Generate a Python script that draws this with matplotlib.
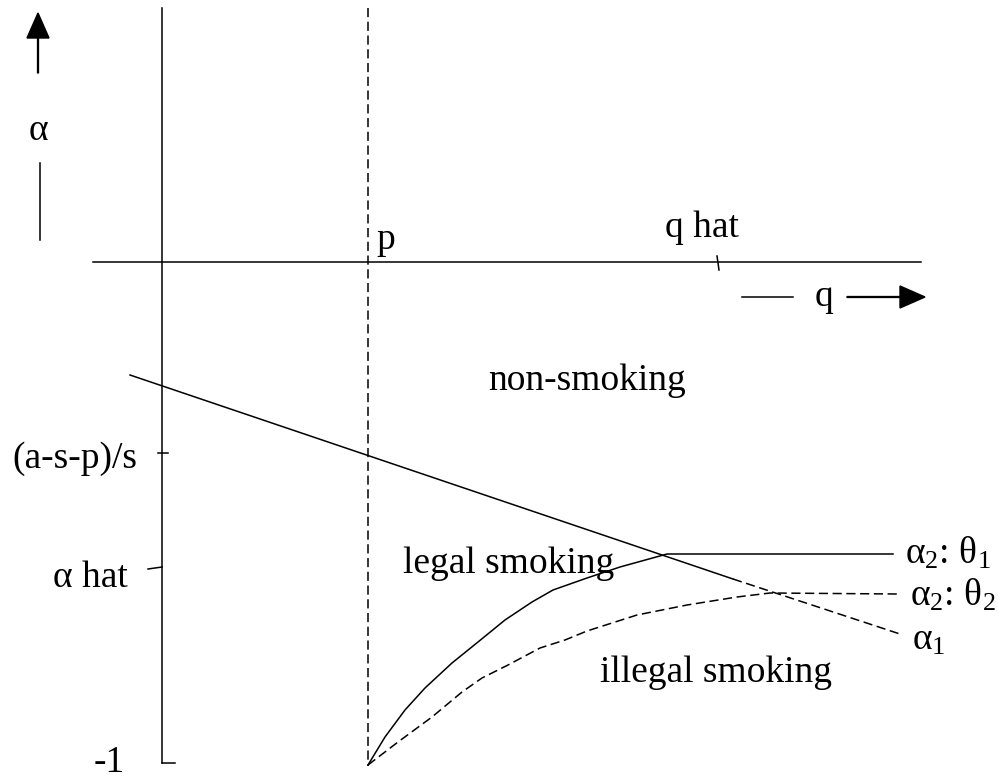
import matplotlib
matplotlib.use("Agg")
import matplotlib.pyplot as plt

plt.rcParams["font.family"] = ["Liberation Serif", "DejaVu Serif"]
plt.rcParams["mathtext.fontset"] = "custom"
plt.rcParams["mathtext.rm"] = "Liberation Serif"
plt.rcParams["mathtext.it"] = "Liberation Serif:italic"
plt.rcParams["mathtext.default"] = "rm"

# diagram coordinates (x to the right, y downward as in the drawing)
alpha_axis_x = [162, 162]
alpha_axis_y = [8, 763]
q_axis_x = [93, 921]
q_axis_y = [262, 262]
p_line_x = [368, 368]
p_line_y = [8, 766]

# alpha_1 boundary, solid part then dashed part
alpha1_solid_x = [130, 733]
alpha1_solid_y = [375, 579]
alpha1_dash_x = [733, 900]
alpha1_dash_y = [579, 634]

# alpha_2 for theta_1 (solid) and theta_2 (dashed)
theta1_x = [368, 385, 405, 425, 452, 478, 505, 532, 553, 587, 620, 667, 893]
theta1_y = [765, 737, 710, 688, 663, 642, 620, 602, 590, 578, 567, 554, 554]
theta2_x = [368, 398, 432, 462, 482, 508, 540, 565, 587, 637, 687, 737, 770, 897]
theta2_y = [765, 742, 717, 692, 678, 665, 648, 640, 631, 615, 605, 597, 593, 594]

# little ticks on the axes
tick_lines = [
    ([158, 168], [453, 453]),   # (a-s-p)/s
    ([148, 162], [569, 567]),   # alpha hat
    ([162, 175], [763, 763]),   # -1
    ([717, 719], [256, 270]),   # q hat
]

fig = plt.figure(figsize=(9.98, 7.8), dpi=100)
ax = fig.add_axes([0, 0, 1, 1])
ax.set_xlim(0, 998)
ax.set_ylim(780, 0)
ax.axis("off")

lw = 1.1
dash = (0, (6, 3))
ax.plot(alpha_axis_x, alpha_axis_y, color="k", lw=lw)
ax.plot(q_axis_x, q_axis_y, color="k", lw=lw)
ax.plot(p_line_x, p_line_y, color="k", lw=lw, linestyle=dash)
ax.plot(alpha1_solid_x, alpha1_solid_y, color="k", lw=lw)
ax.plot(alpha1_dash_x, alpha1_dash_y, color="k", lw=lw, linestyle=dash)
ax.plot(theta1_x, theta1_y, color="k", lw=lw)
ax.plot(theta2_x, theta2_y, color="k", lw=lw, linestyle=dash)
for tx, ty in tick_lines:
    ax.plot(tx, ty, color="k", lw=lw)

# alpha direction marker
ax.arrow(38, 73, 0, -60, width=0.9, head_width=22, head_length=25,
         length_includes_head=True, fc="k", ec="k")
ax.plot([40, 40], [163, 240], color="k", lw=lw)
ax.text(38, 131, "α", fontsize=27, ha="center", va="center")

# q direction marker
ax.plot([742, 793], [297, 297], color="k", lw=lw)
ax.text(824, 297, "q", fontsize=27, ha="center", va="center")
ax.arrow(847, 297, 78, 0, width=0.9, head_width=22, head_length=25,
         length_includes_head=True, fc="k", ec="k")

fs = 27
ax.text(376, 249, "p", fontsize=fs, ha="left", va="baseline")
ax.text(665, 237, "q hat", fontsize=fs, ha="left", va="baseline")
ax.text(488, 390, "non-smoking", fontsize=fs, ha="left", va="baseline")
ax.text(403, 573, "legal smoking", fontsize=fs, ha="left", va="baseline")
ax.text(600, 682, "illegal smoking", fontsize=fs, ha="left", va="baseline")
ax.text(137, 468, "(a-s-p)/s", fontsize=fs, ha="right", va="baseline")
ax.text(128, 587, "α hat", fontsize=fs, ha="right", va="baseline")
ax.text(125, 772, "-1", fontsize=fs, ha="right", va="baseline")
ax.text(905, 553, r"$\alpha_2$: $\theta_1$", fontsize=fs, ha="left", va="center")
ax.text(910, 595, r"$\alpha_2$: $\theta_2$", fontsize=fs, ha="left", va="center")
ax.text(912, 640, r"$\alpha_1$", fontsize=fs, ha="left", va="center")

fig.savefig("out.png", dpi=100)
